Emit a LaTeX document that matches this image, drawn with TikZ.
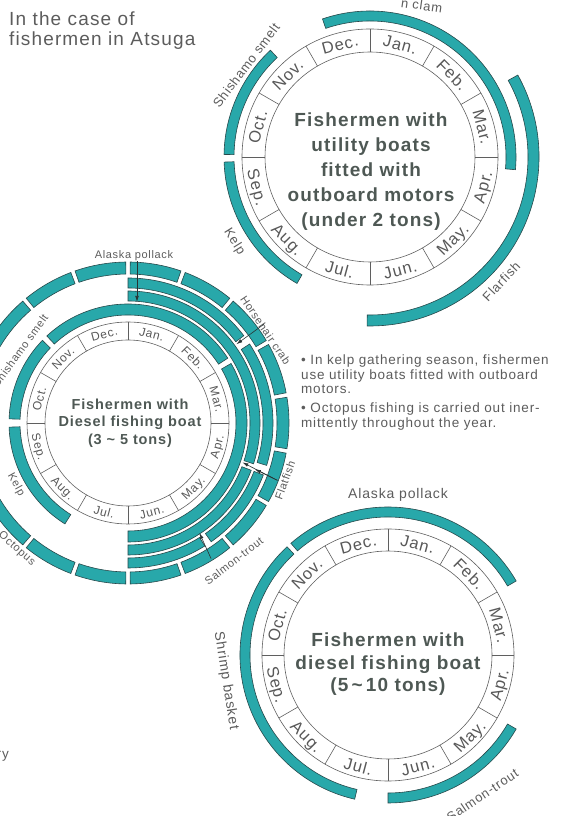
\documentclass[tikz,border=0pt]{standalone}
\usepackage{fontspec}
\setmainfont{Liberation Sans}[LetterSpace=6]
\usetikzlibrary{arrows.meta}

\definecolor{barfill}{RGB}{40,168,170}
\definecolor{barline}{RGB}{38,72,74}
\definecolor{ringgray}{RGB}{95,95,95}
\definecolor{monthgray}{RGB}{88,88,88}
\definecolor{centergray}{RGB}{78,88,84}
\definecolor{labelgray}{RGB}{92,92,92}
\definecolor{arrowgray}{RGB}{40,50,50}

\begin{document}
\begin{tikzpicture}[x=1pt, y=1pt,
    bar/.style={fill=barfill, draw=barline, line width=0.6pt},
    ring/.style={draw=ringgray, line width=0.6pt},
    month/.style={text=monthgray, inner sep=0pt, text depth=0pt},
    fish/.style={text=labelgray, inner sep=0pt, font=\fontsize{#1}{#1}\selectfont},
    heading/.style={text=centergray, align=center, inner sep=0pt},
    pointer/.style={draw=arrowgray, line width=0.6pt, -{Latex[length=6pt,width=3.6pt]}},
    note/.style={text=labelgray, align=left, inner sep=0pt, anchor=north west}]

  \useasboundingbox (0,0) rectangle (565,816);
  \clip (0,0) rectangle (565,816);

  \coordinate (one)   at (370,659);
  \coordinate (two)   at (128,393);
  \coordinate (three) at (388,161);

  % month rings
  \foreach \c/\ri/\ro/\ms in {one/105/128/16.5, two/83/101/12, three/104/126/16.5}{
    \pgfmathsetmacro\rmid{(\ri+\ro)/2}
    \pgfmathsetmacro\capht{0.72*\ms}
    \begin{scope}[shift={(\c)}]
      \draw[ring] (0,0) circle[radius=\ri pt] (0,0) circle[radius=\ro pt];
      \foreach \a in {0,30,...,330}{ \draw[ring] (\a:\ri) -- (\a:\ro); }
      \foreach \m/\ang/\rot [count=\k] in {%
        Jan./75/-15, Feb./45/-45, Mar./15/-75, Apr./-15/75,%
        May./-45/45, Jun./-75/15, Jul./-105/-15, Aug./-135/-45,%
        Sep./-165/-75, Oct./165/75, Nov./135/45, Dec./105/15%
      }{ \node[month, font=\fontsize{\ms}{\ms}\selectfont, text height=\capht pt,
               rotate=\rot] (\c-m\k) at (\ang:\rmid) {\m}; }
    \end{scope}
  }

  % season bars
  \foreach \c/\ri/\ro/\sa/\ea in {%
    one/136/146/-5/109, one/136/146/133/179, one/136/146/182/240,%
    one/158/169/-91/29,%
    two/108/119/-90/30, two/108/119/33/133, two/108/119/136/178, two/108/119/182/238,%
    two/122/132/-18/90, two/122/132/-90/-21,%
    two/135/145/37/90, two/135/145/-17/33, two/135/145/-55/-21, two/135/145/-90/-58,%
    three/138/148/30/131, three/138/148/133/257, three/138/148/-90/-30%
  }{ \draw[bar, shift={(\c)}] (\sa:\ri) arc[start angle=\sa, end angle=\ea, radius=\ri pt]
       -- (\ea:\ro) arc[start angle=\ea, end angle=\sa, radius=\ro pt] -- cycle; }

  % octopus, all the year round
  \foreach \k in {0,...,17}{
    \pgfmathsetmacro\sa{10.8+20*\k}
    \pgfmathsetmacro\ea{29.2+20*\k}
    \draw[bar, shift={(two)}] (\sa:149) arc[start angle=\sa, end angle=\ea, radius=149pt]
      -- (\ea:161) arc[start angle=\ea, end angle=\sa, radius=161pt] -- cycle;
  }

  \node[heading, font=\bfseries\fontsize{19}{25}\selectfont] (utility) at (371,644)
    {Fishermen with\\utility boats\\fitted with\\outboard motors\\(under 2 tons)};
  \node[heading, font=\bfseries\fontsize{14.5}{17.5}\selectfont] (diesel3) at (130,393)
    {Fishermen with\\Diesel fishing boat\\(3 \textasciitilde{} 5 tons)};
  \node[heading, font=\bfseries\fontsize{19}{22.5}\selectfont] (diesel5) at (388,151.5)
    {Fishermen with\\diesel fishing boat\\(5\,\textasciitilde\,10 tons)};

  % labels, first circle
  \begin{scope}[shift={(one)}]
    \node[fish=13, rotate=53] (smelt1) at (143.5:154) {Shishamo smelt};
    \node[fish=13, rotate=-58] (kelp1) at (212:160) {Kelp};
    \node[fish=13, rotate=46.5] (flarfish1) at (-43.5:181) {Flarfish};
  \end{scope}
  \node[fish=13, rotate=-8, anchor=base] (clam1) at (421,806) {n clam};

  % labels, second circle
  \begin{scope}[shift={(two)}]
    \node[fish=11, rotate=54] (smelt2) at (146:130) {Shishamo smelt};
    \node[fish=11, rotate=-61] (kelp2) at (209:128) {Kelp};
    \node[fish=11, rotate=-41.5] (octopus2) at (228.5:168) {Octopus};
    \node[fish=11, rotate=-56] (crab2) at (34:166) {Horsehair crab};
    \node[fish=11, rotate=70] (flatfish2) at (-20:167) {Flatfish};
    \node[fish=11, rotate=37.5] (salmon2) at (-52.5:174) {Salmon-trout};
    \coordinate (crabtail) at (36:168);
    \coordinate (crabtip) at (36:134);
    \coordinate (flattail) at (-21:160);
    \coordinate (flattipA) at (-19:121);
    \coordinate (flattipB) at (-20:135);
    \coordinate (salmontail) at (-58.5:159);
    \coordinate (salmontip) at (-57:131);
  \end{scope}
  \node[fish=11] (pollack2) at (134,560) {Alaska pollack};
  \coordinate (pollacktip) at (137,514);

  \draw[pointer] (pollack2.south -| pollacktip) -- (pollacktip);
  \draw[pointer] (crabtail) -- (crabtip);
  \draw[pointer] (flattail) -- (flattipA);
  \draw[pointer] (flattail) -- (flattipB);
  \draw[pointer] (salmontail) -- (salmontip);

  % labels, third circle
  \node[fish=14] (pollack3) at (398,321) {Alaska pollack};
  \begin{scope}[shift={(three)}]
    \node[fish=14, rotate=-81] (shrimp3) at (189:164) {Shrimp basket};
    \node[fish=13, rotate=34] (salmon3) at (-56:169) {Salmon-trout};
  \end{scope}

  \node[note, font=\fontsize{19}{19.5}\selectfont] (atsuga) at (9,804)
    {In the case of\\fishermen in Atsuga};
  \node[note, font=\fontsize{13.5}{14.3}\selectfont] (kelpnote) at (301,461)
    {\textbullet\ In kelp gathering season, fishermen\\use utility boats fitted with outboard\\motors.};
  \node[note, font=\fontsize{13.5}{14.3}\selectfont] (octonote) at (301,413)
    {\textbullet\ Octopus fishing is carried out iner-\\mittently throughout the year.};
  \node[fish=13.5, anchor=base east] (frag) at (9,57) {ry};
\end{tikzpicture}
\end{document}
